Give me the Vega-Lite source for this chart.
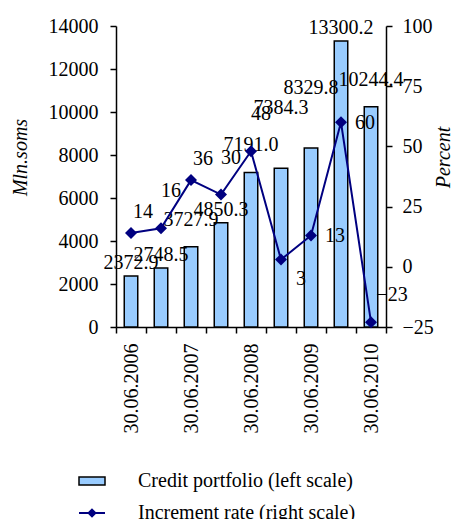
{
  "$schema": "https://vega.github.io/schema/vega-lite/v6.json",
  "autosize": {"type": "none"},
  "padding": {"left": 116, "top": 26, "right": 66, "bottom": 192},
  "width": 270,
  "height": 301,
  "background": "white",
  "config": {
    "view": {"stroke": null},
    "font": "Liberation Serif",
    "style": {"guide-label": {"font": "Liberation Serif", "fontSize": 20, "fill": "black"}, "guide-title": {"font": "Liberation Serif", "fontSize": 20, "fill": "black"}},
    "axis": {"titleFontWeight": "normal", "domainColor": "black", "tickColor": "black", "domainWidth": 1.5, "tickWidth": 1.5, "grid": false},
    "legend": {"padding": 0}
  },
  "data": {
    "values": [
      {"date": "30.06.2006", "portfolio": 2372.9, "rate": 14},
      {"date": "31.12.2006", "portfolio": 2748.5, "rate": 16},
      {"date": "30.06.2007", "portfolio": 3727.9, "rate": 36},
      {"date": "31.12.2007", "portfolio": 4850.3, "rate": 30},
      {"date": "30.06.2008", "portfolio": 7191.0, "rate": 48},
      {"date": "31.12.2008", "portfolio": 7384.3, "rate": 3},
      {"date": "30.06.2009", "portfolio": 8329.8, "rate": 13},
      {"date": "31.12.2009", "portfolio": 13300.2, "rate": 60},
      {"date": "30.06.2010", "portfolio": 10244.4, "rate": -23}
    ]
  },
  "encoding": {
    "x": {
      "field": "date", "type": "nominal", "sort": null,
      "scale": {"paddingInner": 0, "paddingOuter": 0},
      "axis": {"title": null, "labelFont": "Liberation Serif, serif", "labelFontSize": 20, "labelColor": "black", "labelAngle": -90, "labelAlign": "right", "labelBaseline": "middle", "tickBand": "extent", "tickSize": 6, "labelPadding": 10,
        "labelExpr": "indexof(datum.label, '31.12') === 0 ? '' : datum.label"}
    }
  },
  "layer": [
    {
      "encoding": {
        "y": {"field": "portfolio", "type": "quantitative",
          "scale": {"domain": [0, 14000], "nice": false},
          "axis": {"title": "Mln.soms", "format": "d", "labelFont": "Liberation Serif, serif", "labelFontSize": 20, "labelColor": "black", "titleFont": "Liberation Serif, serif", "titleFontSize": 20, "titleColor": "black", "titleFontStyle": "italic", "values": [0, 2000, 4000, 6000, 8000, 10000, 12000, 14000], "tickSize": 6, "labelPadding": 12, "titleX": -96, "titleY": 131, "titleAngle": 270, "titleAlign": "center", "titleBaseline": "middle"}}
      },
      "layer": [
        {
          "mark": {"type": "bar", "width": {"band": 0.45}, "stroke": "black", "strokeWidth": 1.5},
          "encoding": {
            "fill": {"datum": "Credit portfolio (left scale)", "type": "nominal", "scale": {"range": ["#99CCFF"]},
              "legend": {"orient": "none", "legendX": -38, "legendY": 441, "title": null, "symbolType": "M-1,-0.3H1V0.3H-1Z", "symbolSize": 676, "symbolStrokeColor": "black", "symbolStrokeWidth": 1.5, "labelFont": "Liberation Serif", "labelFontSize": 20, "labelColor": "black", "labelOffset": 32, "labelLimit": 400}}
          }
        },
        {
          "transform": [{"filter": {"field": "date", "oneOf": ["30.06.2006", "31.12.2006", "31.12.2007", "31.12.2009"]}}],
          "mark": {"type": "text", "fontSize": 20, "font": "Liberation Serif", "color": "black", "baseline": "middle", "dy": -13},
          "encoding": {"text": {"field": "portfolio", "type": "quantitative", "format": ".1f"}}
        },
        {
          "transform": [{"filter": {"field": "date", "oneOf": ["30.06.2007", "30.06.2008", "30.06.2010"]}}],
          "mark": {"type": "text", "fontSize": 20, "font": "Liberation Serif", "color": "black", "baseline": "middle", "dy": -27},
          "encoding": {"text": {"field": "portfolio", "type": "quantitative", "format": ".1f"}}
        },
        {
          "transform": [{"filter": {"field": "date", "oneOf": ["31.12.2008", "30.06.2009"]}}],
          "mark": {"type": "text", "fontSize": 20, "font": "Liberation Serif", "color": "black", "baseline": "middle", "dy": -60},
          "encoding": {"text": {"field": "portfolio", "type": "quantitative", "format": ".1f"}}
        }
      ]
    },
    {
      "encoding": {
        "y": {"field": "rate", "type": "quantitative",
          "scale": {"domain": [-25, 100], "nice": false, "zero": false},
          "axis": {"orient": "right", "title": "Percent", "labelFont": "Liberation Serif, serif", "labelFontSize": 20, "labelColor": "black", "titleFont": "Liberation Serif, serif", "titleFontSize": 20, "titleColor": "black", "titleFontStyle": "italic", "values": [-25, 0, 25, 50, 75, 100], "tickSize": 6, "labelPadding": 10, "titleX": 57, "titleY": 131, "titleAngle": 270, "titleAlign": "center", "titleBaseline": "middle"}}
      },
      "layer": [
        {
          "mark": {"type": "line", "strokeWidth": 2},
          "encoding": {
            "stroke": {"datum": "Increment rate (right scale)", "type": "nominal", "scale": {"range": ["#000080"]},
              "legend": {"orient": "none", "legendX": -38, "legendY": 473, "title": null, "symbolType": "M-1,0H1M0,-0.26L0.26,0L0,0.26L-0.26,0Z", "symbolSize": 676, "symbolFillColor": "#000080", "symbolStrokeWidth": 2, "labelFont": "Liberation Serif", "labelFontSize": 20, "labelColor": "black", "labelOffset": 32, "labelLimit": 400}}
          }
        },
        {
          "mark": {"type": "point", "shape": "diamond", "filled": true, "size": 144, "color": "#000080", "opacity": 1}
        },
        {
          "transform": [{"filter": {"field": "date", "oneOf": ["30.06.2006", "30.06.2007"]}}],
          "mark": {"type": "text", "fontSize": 20, "font": "Liberation Serif", "color": "black", "baseline": "middle", "dx": 12, "dy": -21},
          "encoding": {"text": {"field": "rate", "type": "quantitative"}}
        },
        {
          "transform": [{"filter": {"field": "date", "oneOf": ["31.12.2006", "31.12.2007", "30.06.2008"]}}],
          "mark": {"type": "text", "fontSize": 20, "font": "Liberation Serif", "color": "black", "baseline": "middle", "dx": 10, "dy": -37},
          "encoding": {"text": {"field": "rate", "type": "quantitative"}}
        },
        {
          "transform": [{"filter": {"field": "date", "oneOf": ["31.12.2008"]}}],
          "mark": {"type": "text", "fontSize": 20, "font": "Liberation Serif", "color": "black", "baseline": "middle", "dx": 20, "dy": 19},
          "encoding": {"text": {"field": "rate", "type": "quantitative"}}
        },
        {
          "transform": [{"filter": {"field": "date", "oneOf": ["30.06.2009", "31.12.2009"]}}],
          "mark": {"type": "text", "fontSize": 20, "font": "Liberation Serif", "color": "black", "baseline": "middle", "dx": 24, "dy": 1},
          "encoding": {"text": {"field": "rate", "type": "quantitative"}}
        },
        {
          "transform": [{"filter": {"field": "date", "oneOf": ["30.06.2010"]}}],
          "mark": {"type": "text", "fontSize": 20, "font": "Liberation Serif", "color": "black", "baseline": "middle", "dx": 21, "dy": -27},
          "encoding": {"text": {"field": "rate", "type": "quantitative"}}
        }
      ]
    }
  ],
  "resolve": {"scale": {"y": "independent"}}
}
